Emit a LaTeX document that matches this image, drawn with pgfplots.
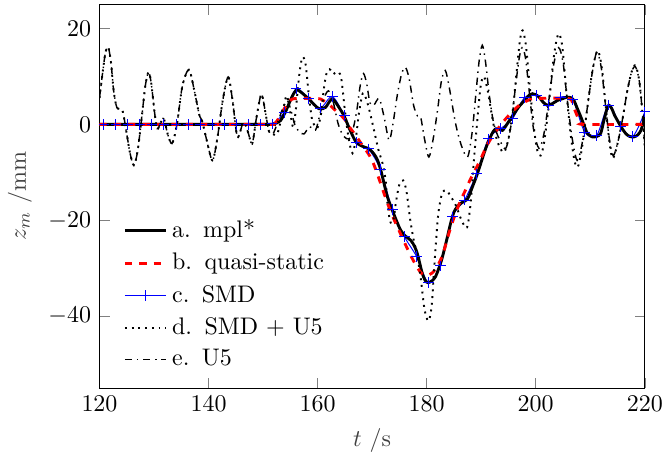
\documentclass[border=0pt]{standalone}
\usepackage{pgfplots}
\pgfplotsset{compat=1.18}
\definecolor{smdblue}{RGB}{0,0,255}
\begin{document}
\begin{tikzpicture}
\begin{axis}[
  scale only axis,
  width=227.5pt, height=160pt,
  xmin=120, xmax=220, ymin=-55, ymax=25,
  xtick={120,140,160,180,200,220},
  ytick={-40,-20,0,20},
  xlabel={$t$ /s}, ylabel={$z_m$ /mm},
  label style={black!75},
  legend style={draw=none, fill=none, at={(0.03,0.022)}, anchor=south west, row sep=0.9pt},
  legend cell align=left,
]
\addlegendimage{black, very thick}
\addlegendentry{a.\hspace{5.2pt}mpl*}
\addlegendimage{red, very thick, dashed}
\addlegendentry{b.\hspace{5.2pt}quasi-static}
\addlegendimage{smdblue, line width=0.5pt, mark=+, mark size=2.2pt, mark options={smdblue, solid}}
\addlegendentry{c.\hspace{5.2pt}SMD}
\addlegendimage{black, thick, dotted}
\addlegendentry{d.\hspace{5.2pt}SMD + U5}
\addlegendimage{black, semithick, dashdotted}
\addlegendentry{e.\hspace{5.2pt}U5}
% c. SMD (line)
\addplot[smdblue, smooth, forget plot] coordinates {
(120,0)(120.80,0)(123.00,0)(125.21,0)(127.41,0)(129.62,0)(131.82,0)(134.03,0)(136.23,0)(138.44,0)(140.64,0)(142.85,0)(145.05,0)(147.25,0)(149.46,0)(151.66,0.1)(153.87,2.5)(156.07,7.4)(158.28,5.4)(160.48,3.4)(162.69,5.8)(164.89,1.8)(167.09,-3.8)(169.30,-5.1)(171.50,-9.4)(173.71,-17.8)(175.91,-23.4)(178.12,-27.5)(180.32,-33.0)(182.53,-29.5)(184.73,-19.3)(186.94,-15.8)(189.14,-10.3)(191.34,-3.0)(193.55,-0.9)(195.75,1.2)(197.96,5.6)(200.16,6.0)(202.37,4.0)(204.57,5.7)(206.78,5.1)(208.98,-1.6)(211.18,-2.3)(213.39,4.0)(215.59,-0.4)(217.80,-2.5)(220.00,2.6)
};
% a. mpl*
\addplot[black, very thick, smooth, forget plot] coordinates {
(120,0)(150,0)(151.5,0)(152.5,0.3)(153.2,0.8)(154.1,2.6)(155,5)(155.7,6.6)(156.3,7.2)(157.3,6.4)(158.4,5.3)(159.3,4.2)(160.2,3.3)(161,3.3)(161.5,3.6)(162.2,4.8)(162.7,5.3)(163.3,4.6)(164,3.4)(164.8,1.9)(165.8,-0.8)(166.7,-3)(167.3,-4)(168.5,-4.7)(169.4,-5.1)(170.3,-6.1)(171,-7.5)(171.6,-9.6)(172.2,-12.4)(172.8,-15.1)(173.7,-17.9)(174.5,-20.2)(175.2,-22)(176,-23.2)(177.1,-24.2)(177.8,-25.5)(178.3,-27)(178.8,-29.3)(179.2,-31.1)(179.7,-32.5)(180.2,-33)(180.9,-32.7)(181.6,-31.8)(182.3,-29.8)(182.9,-27.6)(183.8,-23.5)(184.4,-20.6)(185,-18.3)(185.6,-17.2)(186.2,-16.5)(187.5,-15.5)(188.4,-13)(189.3,-10.3)(190.5,-6.1)(191.1,-4.2)(191.7,-2.6)(192.2,-1.5)(192.7,-0.9)(193.3,-0.9)(193.9,-1.25)(195,0.5)(196,2.2)(197,3.8)(198.2,5.3)(198.8,6.1)(199.4,6.4)(200,6.2)(200.6,5.7)(201.3,4.7)(202.1,4)(203,4.3)(204,5)(205,5.4)(205.8,5.7)(206.4,5.6)(207,5)(207.6,3.4)(208.3,1.5)(208.9,-0.3)(209.5,-1.9)(210.4,-2.6)(211.2,-2.5)(211.9,-1.9)(212.5,0.8)(213,3)(213.4,4)(213.9,3.4)(214.5,1.8)(215,0.8)(215.7,-0.6)(216.5,-1.9)(217.2,-2.5)(218,-2.6)(218.7,-2.2)(219.3,-1.25)(219.7,0.3)(220,2)
};
% b. quasi-static
\addplot[red, very thick, dashed, smooth, forget plot] coordinates {
(120,0)(150,0)(151,0)(152,0)(153,1.5)(154,3.5)(155,5)(156,5.4)(160,5.4)(161,5)(162,4.3)(163,3.2)(164,2.2)(165,1)(166,-0.8)(167,-2.3)(168,-4)(169,-5.6)(170,-7.5)(171,-10.5)(172,-13.8)(173,-17)(174,-19.8)(175,-22.3)(176,-24.8)(177,-27.2)(178,-29.3)(179,-31)(180,-31.5)(181,-31)(182,-29.5)(183,-27)(184,-23)(185,-19.5)(186,-16.5)(187,-14)(188,-11.5)(189,-9.3)(190,-7)(191,-4.5)(192,-2.6)(193,-1)(194,0.5)(195,1.8)(196,3)(197,4)(198,4.7)(199,5.2)(200,5.4)(206,5.4)(206.8,4)(207.6,1.8)(208.3,0.3)(209,0)(220,0)
};
% c. SMD (marks)
\addplot[smdblue, only marks, mark=+, mark size=2.2pt, forget plot] coordinates {
(120.80,0)(123.00,0)(125.21,0)(127.41,0)(129.62,0)(131.82,0)(134.03,0)(136.23,0)(138.44,0)(140.64,0)(142.85,0)(145.05,0)(147.25,0)(149.46,0)(151.66,0.1)(153.87,2.5)(156.07,7.4)(158.28,5.4)(160.48,3.4)(162.69,5.8)(164.89,1.8)(167.09,-3.8)(169.30,-5.1)(171.50,-9.4)(173.71,-17.8)(175.91,-23.4)(178.12,-27.5)(180.32,-33.0)(182.53,-29.5)(184.73,-19.3)(186.94,-15.8)(189.14,-10.3)(191.34,-3.0)(193.55,-0.9)(195.75,1.2)(197.96,5.6)(200.16,6.0)(202.37,4.0)(204.57,5.7)(206.78,5.1)(208.98,-1.6)(211.18,-2.3)(213.39,4.0)(215.59,-0.4)(217.80,-2.5)(220.00,2.6)
};
% d. SMD + U5
\addplot[black, thick, dotted, smooth, forget plot] coordinates {
(120,5.5)(120.6,11)(121.1,15)(121.6,16.1)(122.1,13)(122.6,7)(123.2,3.5)(124.2,2.9)(125,-2)(125.6,-6)(126.3,-8.5)(127,-5.5)(127.8,2)(128.4,8)(129,10.9)(129.5,8.5)(130.1,2.5)(130.6,-0.9)(131.2,0.3)(131.8,1.2)(132.5,-2)(133.3,-4)(134.2,0)(135.2,8)(136.4,11.4)(137.4,7)(138.3,2)(138.8,0.8)(139.6,-3)(140.7,-7.5)(141.6,-3)(142.6,5)(143.6,9.9)(144.4,5)(145.3,-2.6)(146.4,0.5)(147.2,-1.5)(148,-4)(148.8,1.5)(149.7,6.3)(150.5,2)(151.1,-1.5)(151.8,-2)(152.6,-2)(153.5,2)(154.3,6)(154.9,3)(155.5,-0.5)(156,3)(156.6,10)(157.2,14)(157.8,12.5)(158.4,6)(159,1)(159.9,-0.8)(160.6,2)(161.1,7)(161.6,10.5)(162.2,11.5)(162.9,10.5)(163.6,11)(164.3,9.8)(165,3)(165.7,-3)(166.4,-6)(167,-3)(167.6,2.5)(168.3,6.5)(169,5)(169.7,2)(170.5,-2)(171.2,-5.5)(172,-8.5)(172.5,-12)(172.9,-17.5)(173.4,-20.5)(173.9,-20)(174.4,-16)(175,-12.5)(175.7,-11.7)(176.3,-14)(177,-20)(177.6,-24)(178.2,-27)(178.9,-32)(179.6,-38.5)(180.3,-41)(180.9,-38)(181.5,-28)(182.1,-19)(182.8,-14.5)(183.6,-13.75)(184.4,-15)(185.4,-17)(186.4,-20)(187.4,-21.5)(188.1,-16)(188.7,-7)(189.3,1)(189.9,8)(190.5,10)(191.2,7)(191.8,3)(192.6,-2)(193.4,-4.8)(194.2,-5.8)(195,-3)(195.8,3)(196.5,11)(197.1,17.5)(197.6,19.6)(198.2,16.5)(198.9,8)(199.7,-1)(200.3,-5.5)(200.9,-6.5)(201.5,-4)(202.3,3)(203.2,13)(203.8,17.5)(204.3,18.9)(204.9,16)(205.6,7)(206.4,-2)(207.1,-7.5)(207.7,-8.9)(208.4,-5.5)(209.3,2)(210.3,10.5)(211.3,15.4)(212.1,12)(212.9,3)(213.5,-3.5)(214.1,-7.1)(214.9,-4.5)(215.9,1)(216.8,7)(217.6,11)(218.3,12.3)(219,9)(219.6,2)(220,-5)
};
% e. U5
\addplot[black, semithick, dashdotted, smooth, forget plot] coordinates {
(120,5.5)(120.6,11)(121.1,15)(121.6,16.1)(122.1,13)(122.6,7)(123.2,3.5)(124.2,2.9)(125,-2)(125.6,-6)(126.3,-8.5)(127,-5.5)(127.8,2)(128.4,8)(129,10.9)(129.5,8.5)(130.1,2.5)(130.6,-0.9)(131.2,0.3)(131.8,1.2)(132.5,-2)(133.3,-4)(134.2,0)(135.2,8)(136.4,11.4)(137.4,7)(138.3,2)(138.8,0.8)(139.6,-3)(140.7,-7.5)(141.6,-3)(142.6,5)(143.6,9.9)(144.4,5)(145.3,-2.6)(146.4,0.5)(147.2,-1.5)(148,-4)(148.8,1.5)(149.7,6.3)(150.5,2)(151.1,-1.5)(151.8,-2)(152.7,0.5)(153.5,3)(154.4,5)(155.1,3)(155.8,0)(156.6,-1.5)(157.5,-2)(158.5,-0.5)(159.6,-1.2)(160.3,1.5)(161.2,5.5)(162,7)(162.8,5)(163.8,0)(164.8,-2.5)(165.8,-3)(166.5,-1)(167.2,3)(167.8,8)(168.4,10.6)(169,8.5)(169.6,4.5)(170.3,4)(171.3,5.4)(172.2,1.5)(173.1,-3.3)(173.8,0)(174.6,6)(175.4,10.5)(176.1,11.9)(176.8,9.5)(177.6,4)(178.3,1.8)(178.9,1.5)(179.6,-3)(180.4,-6.8)(181.2,-3)(182,3)(182.7,9)(183.4,11.25)(184.1,8)(185.3,0.2)(186.4,-4.5)(187.5,-6.8)(188.3,-2)(189,6)(189.6,13)(190.2,16.5)(190.8,13)(191.5,6)(192.3,0.2)(193.3,-3)(194.5,-5)(195.5,0)(196.3,8)(197,14)(197.5,16)(198.1,14)(198.8,7)(199.6,-1)(200.6,-5)(201.5,-2)(202.4,5)(203.3,12.5)(204.2,16)(205,13)(205.8,5)(206.7,-3)(207.6,-7.5)(208.5,-4)(209.4,3)(210.4,11)(211.2,15)(212,12)(212.8,4)(213.5,-3)(214.2,-6.5)(215,-4)(215.9,1)(216.8,7)(217.6,11)(218.3,12)(219,9)(219.6,2)(220,-4)
};
\end{axis}
\pgfresetboundingbox
\path (current axis.outer south west) rectangle ([xshift=7.6pt,yshift=1.9pt]current axis.north east);
\end{tikzpicture}
\end{document}
